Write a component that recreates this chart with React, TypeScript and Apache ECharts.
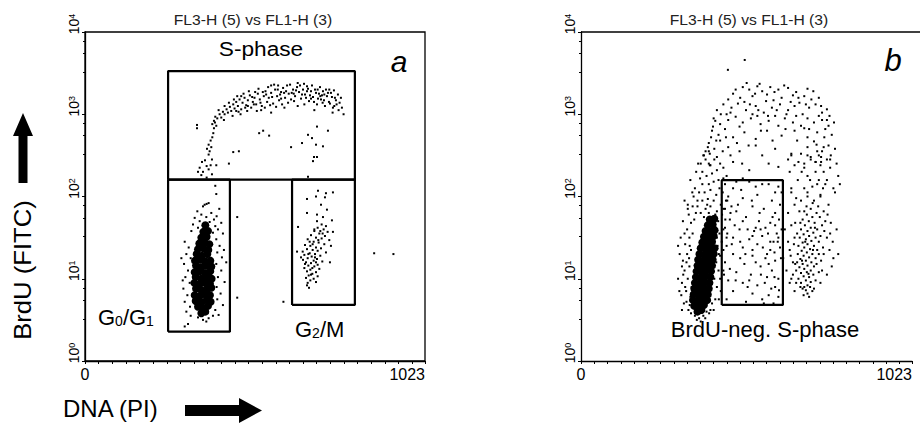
import React, { useEffect, useRef } from "react";
import * as echarts from "echarts";

// DNA channel (0-1023) and BrdU given as log10 of the FITC intensity
const aSPhaseLog: [number, number][] = [
  [388,2.92],[392,2.97],[398,2.95],[405,3.0],[410,2.96],[415,3.03],[420,3.0],[426,3.06],[430,3.02],[436,3.09],
  [440,3.04],[446,3.12],[450,3.07],[455,3.15],[460,3.1],[465,3.18],[470,3.06],[474,3.14],[480,3.2],[485,3.11],
  [490,3.17],[496,3.23],[500,3.08],[505,3.15],[510,3.2],[515,3.12],[520,3.25],[526,3.18],[532,3.1],[538,3.22],
  [543,3.28],[548,3.15],[553,3.2],[560,3.26],[566,3.13],[572,3.3],[578,3.22],[584,3.17],[590,3.27],[596,3.32],
  [602,3.2],[608,3.35],[613,3.25],[620,3.18],[626,3.3],[632,3.22],[638,3.33],[644,3.27],[650,3.19],[656,3.3],
  [662,3.24],[668,3.34],[674,3.16],[680,3.28],[686,3.21],[692,3.3],[698,3.12],[704,3.25],[710,3.18],[716,3.28],
  [722,3.1],[728,3.22],[734,3.15],[740,3.26],[746,3.08],[752,3.2],[757,3.12],[763,3.05],
  [470,3.22],[530,3.05],[560,3.02],[600,3.08],[640,3.1],[690,3.05],[715,3.14],[745,3.02],[700,3.3],[660,3.12],
  [560,3.35],[640,3.38],[512,3.27],[580,3.3],[622,3.26],[668,3.28],[735,3.3],[482,3.08],[455,3.04],[708,3.22],
  [402,3.05],[418,2.93],[433,3.14],[444,2.98],[458,3.22],[468,3.0],[477,3.25],[488,3.04],[493,3.28],[503,3.21],
  [517,3.04],[522,3.31],[535,3.27],[541,3.08],[551,3.33],[557,3.11],[563,3.21],[569,3.36],[575,3.09],[581,3.35],
  [587,3.24],[593,3.12],[599,3.26],[605,3.28],[611,3.14],[617,3.36],[629,3.16],[635,3.29],[647,3.35],[653,3.24],
  [659,3.37],[665,3.2],[671,3.31],[677,3.23],[683,3.35],[689,3.15],[695,3.26],[701,3.19],[707,3.33],[713,3.23],
  [719,3.17],[725,3.3],[731,3.26],[737,3.13],[743,3.21],[749,3.29],[755,3.17],[761,3.24],[766,3.14],[770,3.2],
  [420,3.1],[448,3.18],[462,3.03],[490,3.1],[508,3.12],[528,3.14],[545,3.24],[590,3.19],[628,3.25],[680,3.19],
  [720,3.24],[750,3.1],[773,3.08],[778,3.0],
  [337,2.87],[337,2.83],[388,2.83],[386,2.77],[383,2.72],[378,2.68],[372,2.63],[380,2.6],[375,2.55],[367,2.58],
  [372,2.51],[361,2.44],[382,2.45],[352,2.42],[366,2.37],[345,2.35],[372,2.33],[378,2.38],[355,2.3],[395,2.38],
  [391,2.9],[395,2.86],[383,2.88],[340,2.3],[350,2.26],[366,2.23],[382,2.27],
  [463,2.55],[524,2.77],[536,2.8],[554,2.74],[620,2.6],[433,2.4],[671,2.75],[683,2.71],[698,2.85],[731,2.8],
  [653,2.65],[695,2.63],[716,2.61],[689,2.48],[698,2.48],[686,2.43],[671,2.24],[446,2.54]
];

const aG1CoreLog: [number, number][] = [
  [350,0.58],[362,0.6],[340,0.66],[356,0.64],[370,0.67],[333,0.73],[350,0.71],[366,0.74],[378,0.72],
  [330,0.8],[346,0.79],[361,0.81],[376,0.8],[334,0.88],[350,0.86],[366,0.87],[380,0.89],
  [329,0.95],[344,0.93],[360,0.95],[376,0.94],[333,1.02],[350,1.0],[367,1.02],[381,1.0],
  [330,1.08],[345,1.09],[361,1.07],[377,1.09],[334,1.16],[350,1.14],[366,1.16],[380,1.15],
  [331,1.22],[346,1.23],[362,1.21],[377,1.22],[336,1.3],[352,1.28],[368,1.3],
  [340,1.36],[356,1.37],[371,1.35],[344,1.43],[360,1.44],[374,1.42],[350,1.5],[366,1.51],
  [356,1.57],[370,1.58],[362,1.65]
];

const aG1DotsLog: [number, number][] = [
  [392,2.13],[395,2.03],[360,1.9],[366,1.91],[372,1.92],[355,1.88],[404,1.85],[338,1.82],[380,1.8],[350,1.78],
  [396,1.76],[365,1.75],[330,1.74],[388,1.72],[345,1.7],[375,1.69],[410,1.68],[325,1.66],[392,1.64],[340,1.62],
  [400,1.6],[320,1.58],[385,1.56],[415,1.55],
  [300,1.45],[312,1.38],[305,1.3],[318,1.25],[298,1.18],[310,1.1],[302,1.02],[315,0.95],[296,0.88],[308,0.8],
  [300,0.72],[316,0.66],[305,0.6],[318,0.55],[290,1.25],[294,0.98],
  [395,1.48],[405,1.4],[398,1.32],[412,1.26],[395,1.18],[410,1.1],[400,1.02],[420,0.96],[396,0.9],[408,0.82],
  [398,0.75],[415,0.68],[392,0.62],[402,0.56],[425,1.2],[418,1.35],
  [340,0.53],[355,0.5],[372,0.52],[365,0.48],[310,0.45],[300,0.42],[385,0.55]
];

const aG2Log: [number, number][] = [
  [712,1.66],[725,1.64],[700,1.62],[718,1.6],[690,1.58],[730,1.57],[705,1.55],[680,1.53],[722,1.52],[695,1.5],
  [712,1.49],[670,1.48],[735,1.47],[688,1.45],[703,1.44],[720,1.42],[662,1.41],[678,1.4],[695,1.38],[710,1.37],
  [668,1.36],[685,1.35],[700,1.34],[655,1.33],[725,1.32],[676,1.31],[692,1.3],[660,1.29],[708,1.28],[682,1.27],
  [670,1.25],[698,1.24],[656,1.23],[688,1.22],[714,1.21],[665,1.2],[680,1.19],[700,1.17],[672,1.16],[690,1.15],
  [660,1.13],[705,1.12],[678,1.11],[668,1.09],[695,1.08],[684,1.06],[673,1.04],[700,1.03],[665,1.01],[688,1.0],
  [678,0.98],[695,0.96],[670,0.95],[684,1.13],[692,1.26],[676,1.45],[715,1.55],[698,1.7],[650,1.26],[740,1.4],
  [685,1.42],[702,1.47],[672,1.3],[695,1.2],[680,1.05],[708,1.58],[662,1.18],[690,1.6],
  [701,2.07],[725,2.04],[746,2.05],[695,2.0],[722,1.99],[668,1.97],[710,1.9],[728,1.84],[668,1.8],[698,1.78],
  [716,1.75],[743,1.71],[641,1.63],[638,1.33],[668,0.92],[674,0.89],[737,1.2],[746,1.57]
];

const aStrayLog: [number, number][] = [
  [458,1.75],[458,0.77],[597,0.72],[870,1.31],[928,1.3]
];

const bG1CoreLog: [number, number][] = [
  [360,0.6],[372,0.62],[350,0.67],[366,0.66],[380,0.68],[346,0.74],[361,0.73],[376,0.75],[390,0.74],
  [348,0.81],[363,0.8],[378,0.82],[392,0.81],[350,0.88],[365,0.87],[380,0.89],[395,0.88],
  [352,0.95],[367,0.94],[382,0.96],[397,0.95],[355,1.02],[370,1.01],[385,1.03],[400,1.02],
  [357,1.09],[372,1.08],[387,1.1],[402,1.09],[360,1.16],[375,1.15],[390,1.17],[405,1.16],
  [362,1.23],[377,1.22],[392,1.24],[407,1.23],[366,1.3],[381,1.29],[396,1.31],[410,1.3],
  [370,1.37],[385,1.36],[400,1.38],[413,1.37],[375,1.44],[390,1.43],[405,1.45],
  [380,1.51],[395,1.5],[410,1.52],[385,1.58],[400,1.57],[413,1.59],[392,1.65],[407,1.66],[398,1.72],[412,1.73]
];

const bG1DotsLog: [number, number][] = [
  [318,0.7],[325,0.85],[312,0.95],[330,1.0],[320,1.1],[335,1.15],[315,1.22],[328,1.3],[340,1.35],[322,1.42],
  [335,1.5],[345,1.55],[328,1.6],[340,1.68],[350,1.72],[333,1.78],[355,1.8],[345,1.88],[330,1.9],[360,1.95],
  [338,0.78],[332,0.62],[326,1.2],[316,1.05],[342,0.9],[336,1.4],[305,1.3],[310,0.8],[348,2.0],[320,1.55],
  [415,0.75],[420,0.9],[412,1.0],[425,1.1],[418,1.2],[430,1.28],[422,1.4],[435,1.45],[428,1.55],[440,1.6],
  [424,1.7],[436,1.78],[445,1.85],[420,1.82],[405,0.7],[410,0.62],[430,1.0],[440,1.35],[450,1.5],[432,1.9],
  [370,1.8],[385,1.85],[400,1.88],[375,1.95],[392,1.97],[410,1.95],[365,2.05],[382,2.05],[400,2.08],[418,2.02],
  [375,2.15],[395,2.15],[410,2.18],[428,2.1],[388,2.25],[405,2.28],[420,2.32],[440,2.22],[398,2.38],[430,2.4],
  [415,1.78],[360,1.88],[380,1.75],[395,1.8],[352,2.1],[368,2.22],[390,1.9],
  [352,0.55],[365,0.52],[378,0.55],[340,0.58],[388,0.6],[370,0.48],
  [300,1.0],[308,1.5],[315,1.7],[322,0.9],[312,0.62],[330,1.85],[344,2.05],[338,2.2],[356,2.3],[362,2.4],
  [378,2.5],[395,2.55],[412,2.45],[425,2.2],[438,2.05],[446,1.72],[452,1.95],[440,1.1],[432,0.85],[426,0.75],
  [420,1.5],[416,1.62],[426,1.3],[312,1.15],[304,0.85],[326,0.72],[334,1.25],[300,1.4],[320,1.95],[336,0.68],
  [345,0.65],[400,0.62],[396,0.58],[358,0.5],[384,0.52]
];

const bSPhaseLog: [number, number][] = [
  [500,3.33],[520,3.3],[545,3.34],[560,3.28],[585,3.33],[610,3.3],[640,3.32],[665,3.27],[700,3.31],[718,3.28],
  [470,3.25],[530,3.22],[575,3.24],[620,3.2],[655,3.23],[690,3.22],[735,3.2],[455,3.18],[505,3.15],[595,3.17],
  [420,3.05],[440,3.12],[465,3.08],[485,3.13],[510,3.05],[540,3.1],[565,3.02],[590,3.08],[615,3.12],[640,3.05],
  [660,3.1],[685,3.0],[705,3.08],[725,3.12],[745,3.02],[760,3.06],[450,3.0],[530,3.0],[600,2.98],[675,3.14],
  [410,2.95],[430,2.88],[455,2.93],[478,2.97],[500,2.9],[525,2.95],[555,2.88],[580,2.92],[610,2.86],[630,2.95],
  [655,2.9],[680,2.86],[700,2.95],[720,2.9],[745,2.93],[765,2.86],[490,2.85],[545,2.98],
  [405,2.8],[425,2.75],[445,2.82],[470,2.72],[505,2.78],[540,2.7],[575,2.8],[620,2.74],[660,2.8],[700,2.72],
  [730,2.78],[755,2.82],[775,2.75],[690,2.83],
  [395,2.65],[412,2.58],[430,2.68],[455,2.6],[490,2.55],[540,2.62],[600,2.58],[650,2.52],[700,2.6],[720,2.67],
  [745,2.55],[765,2.62],[785,2.58],[735,2.5],
  [385,2.45],[400,2.38],[420,2.48],[440,2.35],[470,2.42],[520,2.32],[580,2.4],[640,2.45],[690,2.35],[725,2.42],
  [750,2.3],[770,2.45],[710,2.48],
  [375,2.3],[380,2.5],[392,2.6],[402,2.72],[408,2.85],[385,2.55],[395,2.4],[370,2.4],[398,2.52],
  [506,3.66],[454,3.54],
  [450,2.25],[480,2.18],[500,2.22],[560,2.15],[620,2.2],[650,2.1],[700,2.05],[730,2.15],[760,2.2],[780,2.1],
  [740,2.0],[795,2.25],
  [478,3.3],[512,3.38],[538,3.25],[552,3.37],[572,3.16],[598,3.27],[628,3.35],[648,3.15],[672,3.2],[712,3.18],
  [742,3.1],[768,2.98],[782,2.9],[752,2.72],[728,2.63],[705,2.82],[668,2.68],[632,2.82],[592,2.68],[556,2.8],
  [518,2.62],[482,2.65],[448,2.72],[418,2.68],[438,2.55],[462,2.5],[498,2.4],[560,2.5],[610,2.36],[672,2.42],
  [742,2.42],[790,2.4],[800,2.15],[415,2.92],[432,3.0],[462,3.02],[492,3.2],[522,3.12],[548,3.05],[578,2.98],
  [605,3.05],[635,3.0],[665,2.98],[695,3.12],[735,2.98],[760,2.93]
];

const bBrdUNegLog: [number, number][] = [
  [445,2.15],[470,2.1],[520,2.18],[580,2.15],[610,2.12],[600,2.05],[455,2.0],[500,1.98],[545,2.02],[590,1.95],
  [615,1.9],[440,1.85],[480,1.82],[530,1.88],[565,1.85],[600,1.8],[460,1.72],[510,1.75],[550,1.7],[585,1.68],
  [612,1.72],[445,1.62],[490,1.6],[535,1.58],[570,1.62],[605,1.55],[470,1.5],[520,1.48],[560,1.52],[595,1.45],
  [450,1.4],[500,1.38],[545,1.42],[585,1.35],[615,1.38],[470,1.3],[530,1.28],[570,1.25],[600,1.22],[445,1.2],
  [505,1.18],[555,1.15],[590,1.1],[480,1.08],[525,1.05],[575,1.02],[610,1.0],[455,0.98],[500,0.95],[545,0.92],
  [600,0.9],[470,0.85],[530,0.82],[580,0.8],[610,0.78],[450,0.75],[510,0.72],[565,0.7],[540,1.62],[575,1.3],
  [460,1.12],[620,1.6],[485,1.9],[530,1.35],
  [448,1.95],[462,1.8],[475,1.65],[492,1.45],[508,1.3],[515,1.6],[528,1.95],[552,1.8],[562,1.38],[578,1.55],
  [592,1.75],[608,1.45],[618,1.25],[598,1.02],[588,0.88],[568,0.95],[556,1.05],[540,1.2],[515,0.9],[492,1.25],
  [466,1.42],[452,1.55],[442,1.05],[478,0.98],[520,0.98],[560,0.75],[595,0.7],[612,0.86],[580,1.18],[600,1.65],
  [620,2.05],[540,2.12],[495,2.08],[465,1.88],[610,1.5],[585,1.45],[555,1.6],[530,1.52],[500,1.7],[598,1.32]
];

const bG2Log: [number, number][] = [
  [690,0.9],[700,0.92],[680,0.95],[710,0.96],[695,0.98],[672,1.0],[705,1.02],[688,1.03],[718,1.05],[680,1.07],
  [698,1.08],[665,1.1],[710,1.1],[690,1.12],[675,1.14],[720,1.15],[700,1.16],[685,1.18],[668,1.2],[712,1.2],
  [695,1.22],[678,1.24],[725,1.25],[705,1.26],[688,1.28],[670,1.3],[715,1.3],[698,1.32],[682,1.34],[730,1.35],
  [708,1.36],[690,1.38],[672,1.4],[720,1.4],[700,1.42],[685,1.44],[735,1.45],[712,1.46],[695,1.48],[676,1.5],
  [725,1.5],[705,1.52],[688,1.54],[718,1.56],[700,1.58],[680,1.6],[730,1.6],[710,1.62],[692,1.65],[722,1.68],
  [704,1.7],[685,1.72],[715,1.75],[698,1.78],[728,1.8],[690,1.82],[710,1.85],
  [650,1.0],[655,1.2],[645,1.35],[660,1.5],[650,1.65],[640,1.8],[745,1.1],[750,1.3],[760,1.5],[755,1.7],
  [770,1.55],[780,1.25],[740,0.95],[660,0.85],[720,0.88],[700,0.82],[635,1.1],[640,1.45],[765,1.9],
  [660,1.9],[680,1.95],[700,2.0],[720,1.95],[740,2.02],[650,2.05],[690,2.1],[715,2.12],[735,2.2],[755,2.15],
  [670,2.2],[700,2.25],[725,2.3],[645,2.3],[690,2.4],[710,2.45],[740,2.38],[760,2.45],[680,2.52],[730,2.55],
  [650,2.5],[770,2.35],[750,2.6],
  [645,0.95],[655,1.05],[662,1.18],[648,1.28],[658,1.42],[668,1.55],[662,1.68],[675,1.82],[685,0.88],[695,0.86],
  [708,0.9],[725,0.98],[735,1.08],[728,1.18],[742,1.22],[735,1.3],[748,1.38],[740,1.52],[752,1.58],[745,1.65],
  [738,1.75],[750,1.82],[762,1.78],[772,1.68],[778,1.45],[768,1.35],[775,1.15],[760,1.05],[715,0.85],[678,0.9],
  [665,0.95],[703,1.06],[683,1.22],[717,1.35],[693,1.45],[723,1.62],[678,1.68],[697,1.88],[716,1.92],[733,1.88],
  [665,1.98],[748,2.1],[708,2.2],[682,2.3],[725,2.42],[660,2.38],[700,2.5],[742,2.48],[772,2.5],[785,2.05],
  [790,1.6],[795,1.3],[630,1.6],[625,1.25],[688,0.8],[705,0.78]
];

// gates: [DNA min, DNA max, BrdU min, BrdU max]
const gateSPhase = [250, 812, 160, 3350];
const gateG0G1 = [250, 436, 2.27, 160];
const gateG2M = [623, 812, 4.8, 160];
const gateBrdUNegS = [435, 624, 4.8, 158];

const xTicks = ["0", "1023"];
const yDecades = [0, 1, 2, 3, 4];

const FONT = '"Liberation Sans", Arial, Helvetica, sans-serif';

const toPts = (arr: [number, number][]) => arr.map(([x, e]) => [x, Math.pow(10, e)]);
const rect = (g: number[]) => [
  [g[0], g[2]], [g[1], g[2]], [g[1], g[3]], [g[0], g[3]], [g[0], g[2]],
];

export default function App() {
  const ref = useRef<HTMLDivElement>(null);
  useEffect(() => {
    if (!ref.current) return;
    const chart = echarts.init(ref.current, undefined, { renderer: "svg" });

    const xAxisFor = (gi: number) => ({
      gridIndex: gi,
      type: "value",
      min: 0,
      max: 1023,
      interval: 41,
      axisLine: { show: true, lineStyle: { color: "#000", width: 1.3 } },
      axisTick: { show: true, length: 3, lineStyle: { color: "#000", width: 1 } },
      splitLine: { show: false },
      axisLabel: {
        show: true,
        color: "#000",
        fontFamily: FONT,
        fontSize: 16,
        margin: 5,
        hideOverlap: false,
        showMinLabel: true,
        showMaxLabel: true,
        alignMinLabel: "center",
        alignMaxLabel: "right",
        formatter: (v: number) => (v === 0 ? xTicks[0] : v === 1023 ? xTicks[1] : ""),
      },
    });
    const yAxisFor = (gi: number) => ({
      gridIndex: gi,
      type: "log",
      logBase: 10,
      min: Math.pow(10, yDecades[0]),
      max: Math.pow(10, yDecades[yDecades.length - 1]),
      axisLine: { show: true, lineStyle: { color: "#000", width: 1.3 } },
      axisTick: { show: true, length: 3, lineStyle: { color: "#000" } },
      minorTick: { show: true, splitNumber: 4, length: 2, lineStyle: { color: "#000" } },
      splitLine: { show: false },
      minorSplitLine: { show: false },
      axisLabel: {
        rotate: 90,
        margin: 4,
        color: "#000",
        padding: [0, 0, 0, 16],
        formatter: (v: number) => `{b|10}{t|${Math.round(Math.log10(v))}}`,
        rich: {
          b: { fontSize: 14, fontFamily: FONT, color: "#000", lineHeight: 14 },
          t: { fontSize: 9, fontFamily: FONT, color: "#000", lineHeight: 5, verticalAlign: "top" },
        },
      },
    });

    const dots = (data: [number, number][], gi: number, size = 2) => ({
      type: "scatter",
      xAxisIndex: gi,
      yAxisIndex: gi,
      symbol: "rect",
      symbolSize: size,
      itemStyle: { color: "#000", opacity: 1, borderWidth: 0 },
      silent: true,
      data: toPts(data),
    });
    const core = (data: [number, number][], gi: number) => ({
      type: "scatter",
      xAxisIndex: gi,
      yAxisIndex: gi,
      symbol: "circle",
      symbolSize: 8,
      itemStyle: { color: "#000", opacity: 1, borderWidth: 0 },
      silent: true,
      data: toPts(data),
    });
    const gate = (g: number[], gi: number) => ({
      type: "line",
      xAxisIndex: gi,
      yAxisIndex: gi,
      symbol: "none",
      silent: true,
      clip: false,
      lineStyle: { color: "#000", width: 2.2 },
      data: rect(g),
      z: 5,
    });

    const txt = (text: string, x: number, y: number, size: number, extra: any = {}, styleExtra: any = {}) => ({
      type: "text",
      x,
      y,
      ...extra,
      style: {
        text,
        fontFamily: FONT,
        fontSize: size,
        fill: "#000",
        align: "center",
        verticalAlign: "middle",
        ...styleExtra,
      },
    });

    chart.setOption({
      animation: false,
      backgroundColor: "#fff",
      grid: [
        { left: 85, top: 32, width: 340, height: 329, show: true, borderColor: "#000", borderWidth: 1.3, backgroundColor: "transparent" },
        { left: 581, top: 32, width: 331, height: 329 },
      ],
      xAxis: [xAxisFor(0), xAxisFor(1)],
      yAxis: [yAxisFor(0), yAxisFor(1)],
      series: [
        dots(aSPhaseLog, 0),
        core(aG1CoreLog, 0),
        dots(aG1DotsLog, 0),
        dots(aG2Log, 0),
        dots(aStrayLog, 0),
        gate(gateSPhase, 0),
        gate(gateG0G1, 0),
        gate(gateG2M, 0),
        core(bG1CoreLog, 1),
        dots(bG1DotsLog, 1),
        dots(bSPhaseLog, 1),
        dots(bBrdUNegLog, 1),
        dots(bG2Log, 1),
        gate(gateBrdUNegS, 1),
      ],
      graphic: [
        txt("FL3-H (5) vs FL1-H (3)", 253, 20, 14, { scaleX: 1.12 }, { fill: "#222" }),
        txt("FL3-H (5) vs FL1-H (3)", 749, 20, 14, { scaleX: 1.12 }, { fill: "#222" }),
        txt("S-phase", 261, 49, 21, { scaleX: 1.08 }),
        txt("a", 399, 61, 30, {}, { fontStyle: "italic" }),
        txt("b", 893, 60, 31, {}, { fontStyle: "italic" }),
        txt("{n|G}{s|0}{n|/G}{s|1}", 98, 317, 22, {}, {
          align: "left",
          rich: {
            n: { fontSize: 22, fontFamily: FONT, fill: "#000", lineHeight: 22, verticalAlign: "bottom" },
            s: { fontSize: 14, fontFamily: FONT, fill: "#000", lineHeight: 4, verticalAlign: "bottom" },
          },
        }),
        txt("{n|G}{s|2}{n|/M}", 295, 329, 22, {}, {
          align: "left",
          rich: {
            n: { fontSize: 22, fontFamily: FONT, fill: "#000", lineHeight: 22, verticalAlign: "bottom" },
            s: { fontSize: 14, fontFamily: FONT, fill: "#000", lineHeight: 4, verticalAlign: "bottom" },
          },
        }),
        txt("BrdU-neg. S-phase", 765, 329, 22),
        txt("BrdU (FITC)", 23, 270, 24, { rotation: Math.PI / 2, scaleX: 1.07 }),
        txt("DNA (PI)", 63, 408, 24, {}, { align: "left" }),
        {
          type: "polygon",
          shape: { points: [[13, 136], [23, 113], [33, 136], [27.5, 136], [27.5, 183], [18.5, 183], [18.5, 136]] },
          style: { fill: "#000" },
        },
        {
          type: "polygon",
          shape: { points: [[185, 405], [239, 405], [239, 398], [262, 410.5], [239, 423], [239, 416], [185, 416]] },
          style: { fill: "#000" },
        },
        {
          type: "line",
          shape: { x1: 581, y1: 32, x2: 920, y2: 32 },
          style: { stroke: "#000", lineWidth: 1.3 },
        },
      ],
    });
    return () => chart.dispose();
  }, []);
  return (
    <div
      ref={ref}
      style={{ position: "absolute", left: 0, top: 0, width: 920, height: 425 }}
    />
  );
}
